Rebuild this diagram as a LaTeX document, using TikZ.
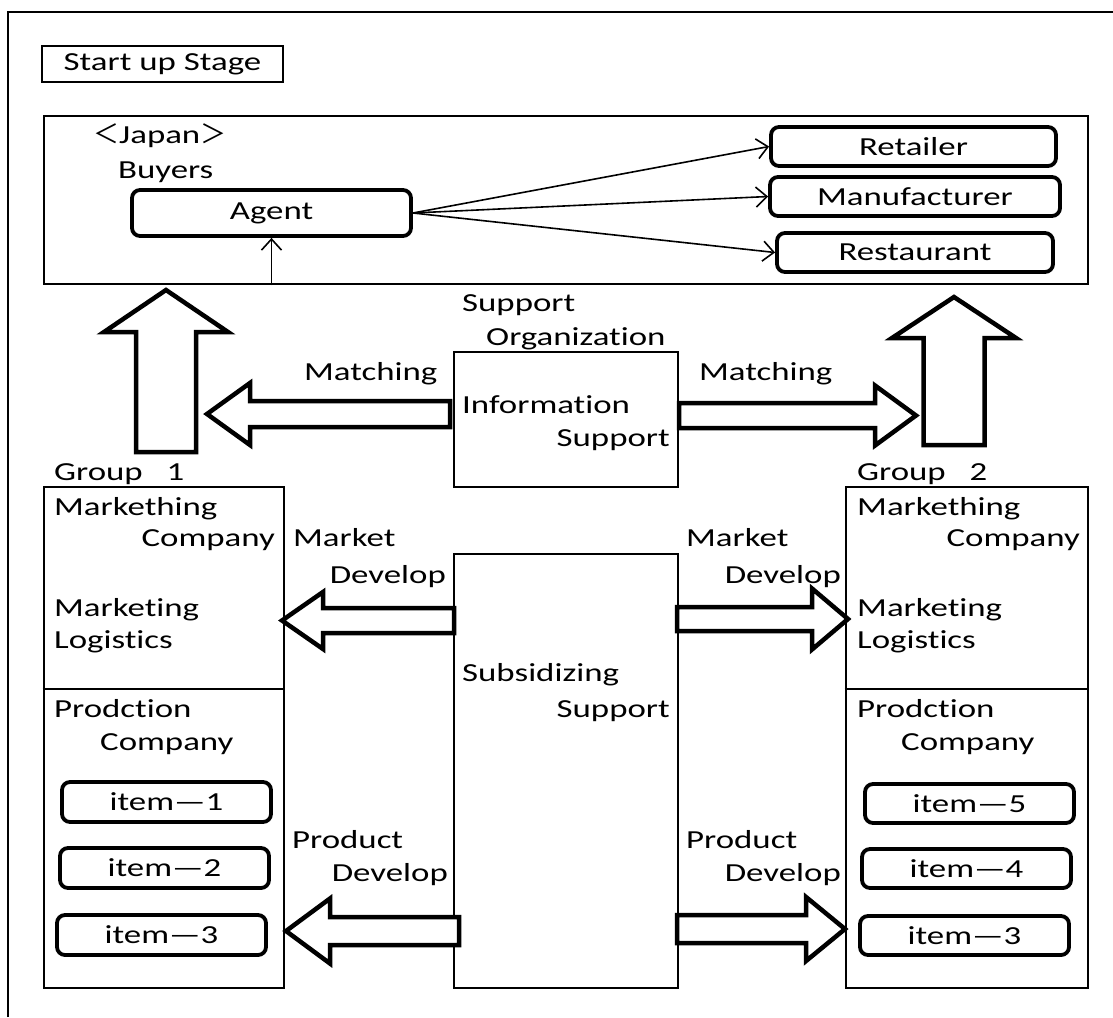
\documentclass[tikz,border=0pt]{standalone}
\usepackage{fontspec}
\setmainfont{Carlito}[FakeStretch=1.34, Ligatures={NoCommon,NoContextual}, Contextuals=NoAlternate]
\newfontfamily\cjk{Noto Sans CJK JP}
\usetikzlibrary{arrows.meta}

% "ti" written without the font's ligature
\newcommand{\tix}{t\kern0pt i}

% horizontal block arrow: tail x, head-base x, tip x, centre y, shaft half, head half
\newcommand{\harrow}[6]{%
  \draw[blockarrow] (#1,#4-#5) -- (#2,#4-#5) -- (#2,#4-#6) -- (#3,#4)
    -- (#2,#4+#6) -- (#2,#4+#5) -- (#1,#4+#5) -- cycle;}
% vertical block arrow: tail y, head-base y, tip y, centre x, shaft half, head half
\newcommand{\varrow}[6]{%
  \draw[blockarrow] (#4-#5,#1) -- (#4-#5,#2) -- (#4-#6,#2) -- (#4,#3)
    -- (#4+#6,#2) -- (#4+#5,#2) -- (#4+#5,#1) -- cycle;}

\begin{document}
\begin{tikzpicture}[x=1pt,y=-1pt,
  every node/.style={font=\fontsize{26}{30}\selectfont},
  panel/.style={draw, line width=2.8pt, inner sep=0pt},
  pill/.style={draw, line width=3.8pt, rounded corners=8pt, inner sep=0pt},
  lbl/.style={inner sep=0pt},
  blockarrow/.style={draw, line width=4.5pt, fill=white, line join=miter},
  thinarrow/.style={line width=1.6pt,
    -{Straight Barb[length=11pt,width=20pt,line width=1.6pt]}}]

\useasboundingbox (0,0) rectangle (1113,1017);

% page frame (top and left edges)
\draw[line width=2.4pt] (8,1017) -- (8,12) -- (1113,12);

% stage caption
\node[panel, minimum width=241pt, minimum height=36pt] (stage) at (162.5,64) {Start up Stage};

% buyers in Japan
\node[panel, minimum width=1044pt, minimum height=168pt] (jp) at (566,200) {};
\node[lbl, anchor=base west] (jptitle) at (93,143) {{\cjk ＜}Japan{\cjk ＞}};
\node[lbl, anchor=base west] (buyers) at (118,178) {Buyers};
\node[pill, minimum width=279pt, minimum height=46pt] (agent) at (271.5,213) {Agent};
\node[pill, minimum width=285pt, minimum height=39pt] (retail) at (913.5,146.5) {Retailer};
\node[pill, minimum width=290pt, minimum height=39pt] (manu) at (915,196.5) {Manufacturer};
\node[pill, minimum width=276pt, minimum height=39pt] (rest) at (915,252.5) {Restaurant};
\draw[thinarrow] (agent.east) -- (retail.west);
\draw[thinarrow] (agent.east) -- (manu.west);
\draw[thinarrow] (agent.east) -- (rest.west);
\coordinate (agentin) at (agent.south |- jp.south);
\draw[thinarrow] (agentin) -- (agent.south);

% support organization
\node[lbl, anchor=base west] (sup1) at (462,311) {Support};
\node[lbl, anchor=base west] (sup2) at (486,345) {Organiza\tix on};
\node[panel, minimum width=224pt, minimum height=135pt] (info) at (566,419.5) {};
\node[lbl, anchor=base west] (info1) at (462,413) {Informa\tix on};
\node[lbl, anchor=base east] (info2) at (670,446) {Support};
\node[lbl, anchor=base west] (match1) at (304,380) {Matching};
\node[lbl, anchor=base west] (match2) at (699,380) {Matching};

\node[panel, minimum width=224pt, minimum height=434pt] (subs) at (566,771) {};
\node[lbl, anchor=base west] (subs1) at (462,681) {Subsidizing};
\node[lbl, anchor=base east] (subs2) at (670,717) {Support};

% group 1
\node[lbl, anchor=base west] (g1title) at (54,480) {Group\hspace{24pt}1};
\node[panel, minimum width=240pt, minimum height=501pt] (g1) at (164,737.5) {};
\draw[line width=2.4pt] (g1.west |- 0,689) -- (g1.east |- 0,689);
\node[lbl, anchor=base west] (g1a) at (54,515) {Markething};
\node[lbl, anchor=base east] (g1b) at (275,546) {Company};
\node[lbl, anchor=base west] (g1c) at (54,616) {Marketing};
\node[lbl, anchor=base west] (g1d) at (54,648) {Logis\tix cs};
\node[lbl, anchor=base west] (g1e) at (54,717) {Prodction};
\node[lbl, anchor=base west] (g1f) at (100,750) {Company};
\node[pill, minimum width=209pt, minimum height=40pt] (it1) at (166.5,802) {item—1};
\node[pill, minimum width=209pt, minimum height=40pt] (it2) at (164.5,868) {item—2};
\node[pill, minimum width=209pt, minimum height=40pt] (it3) at (161.5,935) {item—3};

% group 2
\node[lbl, anchor=base west] (g2title) at (857,480) {Group\hspace{24pt}2};
\node[panel, minimum width=242pt, minimum height=501pt] (g2) at (967,737.5) {};
\draw[line width=2.4pt] (g2.west |- 0,689) -- (g2.east |- 0,689);
\node[lbl, anchor=base west] (g2a) at (857,515) {Markething};
\node[lbl, anchor=base east] (g2b) at (1080,546) {Company};
\node[lbl, anchor=base west] (g2c) at (857,616) {Marketing};
\node[lbl, anchor=base west] (g2d) at (857,648) {Logis\tix cs};
\node[lbl, anchor=base west] (g2e) at (857,717) {Prodction};
\node[lbl, anchor=base west] (g2f) at (901,750) {Company};
\node[pill, minimum width=209pt, minimum height=39pt] (it5) at (969.5,803.5) {item—5};
\node[pill, minimum width=209pt, minimum height=39pt] (it4) at (966.5,868.5) {item—4};
\node[pill, minimum width=209pt, minimum height=39pt] (it3b) at (964.5,935.5) {item—3};

% development labels
\node[lbl, anchor=base west] (md1) at (293,546) {Market};
\node[lbl, anchor=base east] (md2) at (446,583) {Develop};
\node[lbl, anchor=base west] (md3) at (686,546) {Market};
\node[lbl, anchor=base east] (md4) at (841,583) {Develop};
\node[lbl, anchor=base west] (pd1) at (292,848) {Product};
\node[lbl, anchor=base east] (pd2) at (448,881) {Develop};
\node[lbl, anchor=base west] (pd3) at (686,848) {Product};
\node[lbl, anchor=base east] (pd4) at (841,881) {Develop};

% block arrows
\varrow{452}{332}{290}{166}{30}{62}
\varrow{445}{338}{297}{954}{30.5}{62}
\harrow{450}{250}{207}{414}{13}{31}
\harrow{679}{875}{916}{415.5}{12.5}{30}
\harrow{454}{323}{282}{620.5}{12.5}{28.5}
\harrow{677}{812}{848}{619}{12}{30.5}
\harrow{459}{330}{286}{931}{14}{32.5}
\harrow{677}{806}{845}{929}{14}{32}
\end{tikzpicture}
\end{document}
